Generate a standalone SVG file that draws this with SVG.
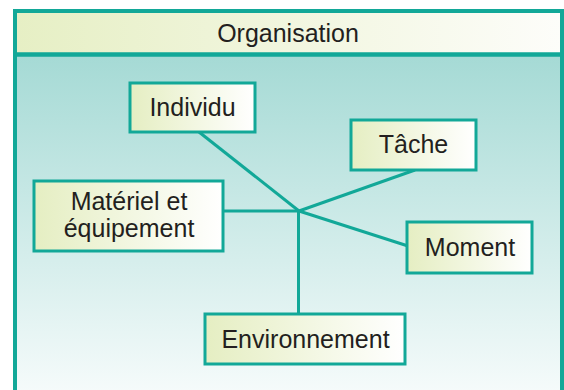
<svg xmlns="http://www.w3.org/2000/svg" width="564" height="390" viewBox="0 0 564 390">
<defs>
<linearGradient id="panel" x1="0" y1="0" x2="0" y2="1">
<stop offset="0" stop-color="#a5dad5"/>
<stop offset="1" stop-color="#f6fbfb"/>
</linearGradient>
<linearGradient id="boxfill" x1="0" y1="0" x2="1" y2="0">
<stop offset="0" stop-color="#e5eec2"/>
<stop offset="1" stop-color="#ffffff"/>
</linearGradient>
<linearGradient id="headfill" x1="0" y1="0" x2="1" y2="0">
<stop offset="0" stop-color="#e6efc4"/>
<stop offset="1" stop-color="#fdfdfa"/>
</linearGradient>
</defs>
<style>
.frame{fill:none;stroke:#12a898;stroke-width:4}
.box{fill:url(#boxfill);stroke:#12a898;stroke-width:3}
.lbl{font-family:"Liberation Sans",Arial,sans-serif;font-size:25px;fill:#231f20;text-anchor:middle}
.conn{stroke:#12a898;stroke-width:3;fill:none}
</style>
<rect x="0" y="0" width="564" height="390" fill="#ffffff"/>
<g id="frame">
<rect x="15" y="55" width="547" height="340" fill="url(#panel)"/>
<rect x="15" y="11" width="547" height="44" fill="url(#headfill)"/>
<line x1="15" y1="54.5" x2="562" y2="54.5" stroke="#12a898" stroke-width="4.5"/>
<path class="frame" d="M15,395 V11 H562 V395"/>
<text class="lbl" x="288" y="42">Organisation</text>
</g>
<g id="connectors">
<line class="conn" x1="199" y1="132" x2="299" y2="211"/>
<line class="conn" x1="415" y1="170" x2="299" y2="211"/>
<line class="conn" x1="299" y1="211" x2="408" y2="246"/>
<line class="conn" x1="223" y1="211" x2="299" y2="211"/>
<line class="conn" x1="298.5" y1="211" x2="298.5" y2="314"/>
</g>
<g id="individu">
<rect class="box" x="130" y="83" width="125" height="49"/>
<text class="lbl" x="192.5" y="116">Individu</text>
</g>
<g id="tache">
<rect class="box" x="351" y="120" width="125" height="50"/>
<text class="lbl" x="413.5" y="153">Tâche</text>
</g>
<g id="materiel">
<rect class="box" x="34" y="181" width="189" height="70"/>
<text class="lbl" x="129" y="210">Matériel et</text>
<text class="lbl" x="129" y="237">équipement</text>
</g>
<g id="moment">
<rect class="box" x="407" y="222" width="125" height="51"/>
<text class="lbl" x="470" y="256">Moment</text>
</g>
<g id="environnement">
<rect class="box" x="205" y="314" width="200" height="50"/>
<text class="lbl" x="305.5" y="348">Environnement</text>
</g>
</svg>
